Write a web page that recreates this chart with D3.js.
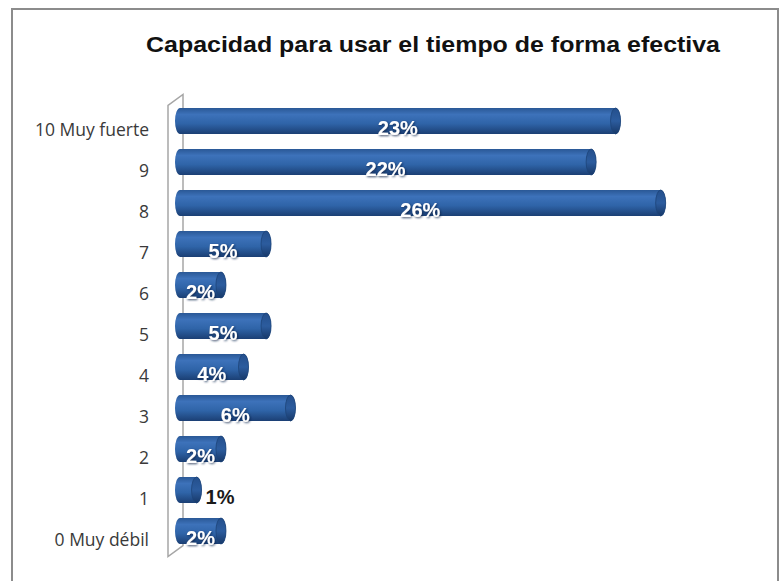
<!DOCTYPE html>
<html lang="es">
<head>
  <meta charset="UTF-8">
  <title>Capacidad para usar el tiempo de forma efectiva</title>
  <script src="https://d3js.org/d3.v7.min.js"></script>
  <style>
    body { margin: 0; background: #fff; }
    .cat { font-family: "Open Sans", "Liberation Sans", sans-serif; font-size: 17.5px; fill: #3a3a3a; text-anchor: end; }
    .pct { font-family: "Liberation Sans", Arial, sans-serif; font-size: 20px; font-weight: bold; }
    .title { font-family: "Liberation Sans", Arial, sans-serif; font-size: 22px; font-weight: bold; fill: #111; }
  </style>
</head>
<body>
  <svg width="783" height="581"></svg>

  <script>
    const categories = ["10 Muy fuerte", "9", "8", "7", "6", "5", "4", "3", "2", "1", "0 Muy débil"];
    const values = [23.5, 22.2, 25.9, 4.9, 2.5, 4.9, 3.7, 6.2, 2.5, 1.2, 2.5];
    const labels = ["23%", "22%", "26%", "5%", "2%", "5%", "4%", "6%", "2%", "1%", "2%"];
    const title = "Capacidad para usar el tiempo de forma efectiva";

    const data = categories.map((c, i) => ({ cat: c, v: values[i], label: labels[i] }));

    const svg = d3.select("svg");

    // Rahmen
    svg.append("rect")
      .attr("x", 12).attr("y", 9).attr("width", 766).attr("height", 580)
      .attr("fill", "#fff").attr("stroke", "#8c8c8c").attr("stroke-width", 2);

    svg.append("text")
      .attr("class", "title")
      .attr("x", 433).attr("y", 52)
      .attr("text-anchor", "middle")
      .attr("textLength", 574)
      .attr("lengthAdjust", "spacingAndGlyphs")
      .text(title);

    const x = d3.scaleLinear().domain([0, 26]).range([175, 175 + 26 * 18.79]);
    const y = d3.scaleBand().domain(categories).range([109.5, 560.5])
      .paddingInner(0.366).paddingOuter(0.183);

    const shiftY = -9;     // bars sit behind the label plane
    const cap = 5;         // ellipse radius of the cylinder ends
    const depth = { dx: 15, dy: -11 };

    const defs = svg.append("defs");
    const grad = defs.append("linearGradient")
      .attr("id", "cyl").attr("x1", 0).attr("x2", 0).attr("y1", 0).attr("y2", 1);
    [[0, "#2a5896"], [0.25, "#3d72ba"], [0.6, "#2f64a8"], [1, "#1b3f74"]]
      .forEach(s => grad.append("stop").attr("offset", s[0]).attr("stop-color", s[1]));
    const gradCap = defs.append("linearGradient")
      .attr("id", "capg").attr("x1", 0).attr("x2", 0).attr("y1", 0).attr("y2", 1);
    [[0, "#244f8c"], [0.5, "#2c5c9e"], [1, "#173868"]]
      .forEach(s => gradCap.append("stop").attr("offset", s[0]).attr("stop-color", s[1]));
    const shadow = defs.append("filter").attr("id", "sh")
      .attr("x", "-20%").attr("y", "-20%").attr("width", "140%").attr("height", "140%");
    shadow.append("feDropShadow").attr("dx", 1).attr("dy", 1).attr("stdDeviation", 0.8)
      .attr("flood-color", "#0d2347").attr("flood-opacity", 0.8);

    // Rückwand
    const yTop = y.range()[0] - 4, yBot = y.range()[1] - 4;
    const wx = 168;
    svg.append("path")
      .attr("d", `M${wx},${yBot} L${wx},${yTop} L${wx + depth.dx},${yTop + depth.dy} L${wx + depth.dx},${yBot + depth.dy} Z`)
      .attr("fill", "none").attr("stroke", "#a6a6a6").attr("stroke-width", 1.5);

    const bh = y.bandwidth();
    const g = svg.append("g").attr("transform", `translate(0,${shiftY})`);

    const bars = g.selectAll(".bar").data(data).join("g").attr("class", "bar");

    bars.append("path")
      .attr("d", d => {
        const x0 = x(0), x1 = x(d.v) + 4 - cap;
        const t = y(d.cat), b = y(d.cat) + bh;
        return `M${x0 + cap},${t} L${x1},${t} A${cap},${bh / 2} 0 0 1 ${x1},${b} L${x0 + cap},${b} A${cap},${bh / 2} 0 0 1 ${x0 + cap},${t} Z`;
      })
      .attr("fill", "url(#cyl)");

    bars.append("ellipse")
      .attr("cx", d => x(d.v) + 4 - cap)
      .attr("cy", d => y(d.cat) + bh / 2)
      .attr("rx", cap).attr("ry", bh / 2)
      .attr("fill", "url(#capg)")
      .attr("stroke", "#1d4478").attr("stroke-width", 0.8);

    // Werte
    g.selectAll(".pct").data(data).join("text")
      .attr("class", "pct")
      .attr("x", d => (x(d.v) + 4 - x(0)) > 36 ? (x(0) + x(d.v) + 4) / 2 : x(d.v) + 8)
      .attr("y", d => y(d.cat) + bh / 2 + 13.5)
      .attr("text-anchor", d => (x(d.v) + 4 - x(0)) > 36 ? "middle" : "start")
      .attr("fill", d => (x(d.v) + 4 - x(0)) > 36 ? "#fff" : "#1a1a1a")
      .attr("filter", d => (x(d.v) + 4 - x(0)) > 36 ? "url(#sh)" : null)
      .text(d => d.label);

    // Kategorien
    svg.selectAll(".cat").data(data).join("text")
      .attr("class", "cat")
      .attr("x", 149)
      .attr("y", d => y(d.cat) + bh / 2 + 6)
      .text(d => d.cat);
  </script>
</body>
</html>
